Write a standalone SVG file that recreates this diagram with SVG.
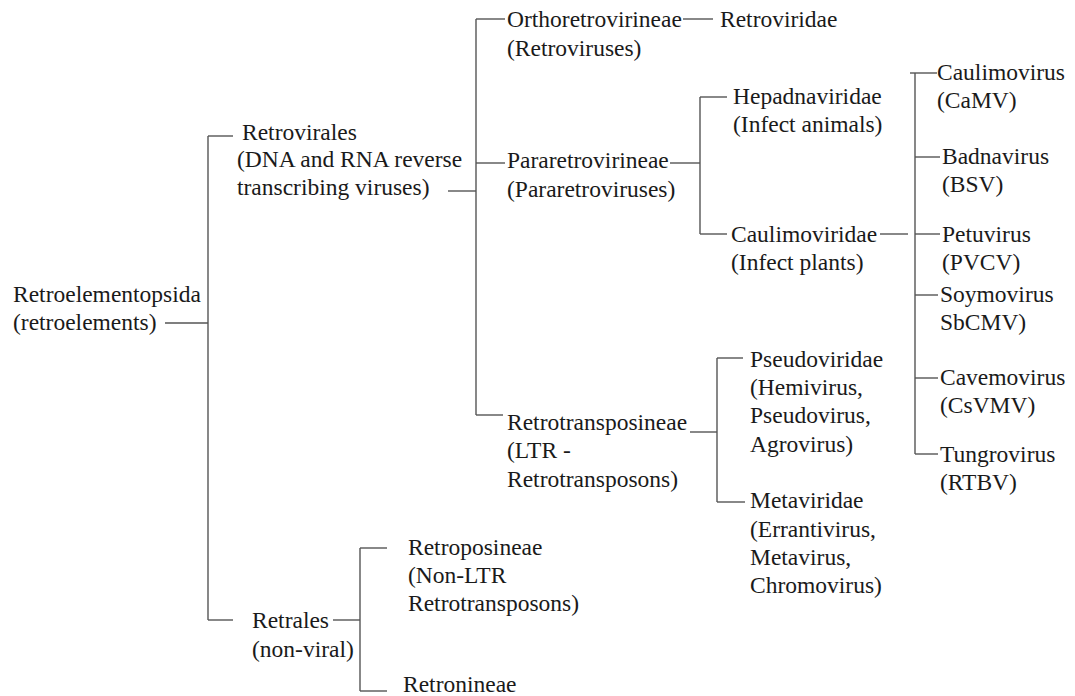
<svg xmlns="http://www.w3.org/2000/svg" width="1075" height="696" viewBox="0 0 1075 696">
<style>
text{font-family:"Liberation Serif","Times New Roman",serif;font-size:23.5px;fill:#1a1a1a}
.c line{stroke:#555;stroke-width:1.4;fill:none}
</style>
<rect width="1075" height="696" fill="#fff"/>
<g class="c" id="connectors">
<line x1="165" y1="323" x2="208" y2="323"/>
<line x1="208" y1="136" x2="208" y2="620"/>
<line x1="208" y1="136" x2="233" y2="136"/>
<line x1="208" y1="620" x2="233" y2="620"/>
<line x1="448" y1="191" x2="476" y2="191"/>
<line x1="476" y1="19" x2="476" y2="415"/>
<line x1="476" y1="19" x2="505" y2="19"/>
<line x1="476" y1="163" x2="505" y2="163"/>
<line x1="476" y1="415" x2="503" y2="415"/>
<line x1="683" y1="19" x2="713" y2="19"/>
<line x1="670" y1="163" x2="700" y2="163"/>
<line x1="700" y1="97" x2="700" y2="234"/>
<line x1="700" y1="97" x2="727" y2="97"/>
<line x1="700" y1="234" x2="727" y2="234"/>
<line x1="880" y1="234" x2="908" y2="234"/>
<line x1="915" y1="73" x2="915" y2="454"/>
<line x1="910" y1="73" x2="937" y2="73"/>
<line x1="915" y1="157" x2="940" y2="157"/>
<line x1="915" y1="234" x2="940" y2="234"/>
<line x1="915" y1="295" x2="938" y2="295"/>
<line x1="915" y1="378" x2="938" y2="378"/>
<line x1="915" y1="454" x2="938" y2="454"/>
<line x1="690" y1="432" x2="717" y2="432"/>
<line x1="717" y1="358" x2="717" y2="502"/>
<line x1="717" y1="358" x2="743" y2="358"/>
<line x1="717" y1="502" x2="745" y2="502"/>
<line x1="333" y1="620" x2="360" y2="620"/>
<line x1="360" y1="548" x2="360" y2="691"/>
<line x1="360" y1="548" x2="387" y2="548"/>
<line x1="360" y1="691" x2="387" y2="691"/>
</g>
<g id="retroelementopsida"><text x="13" y="302">Retroelementopsida</text><text x="13" y="330">(retroelements)</text></g>
<g id="retrovirales"><text x="242" y="140">Retrovirales</text><text x="237" y="167">(DNA and RNA reverse</text><text x="237" y="195">transcribing viruses)</text></g>
<g id="orthoretrovirineae"><text x="507" y="27">Orthoretrovirineae</text><text x="507" y="56">(Retroviruses)</text></g>
<g id="retroviridae"><text x="720" y="27">Retroviridae</text></g>
<g id="pararetrovirineae"><text x="507" y="168">Pararetrovirineae</text><text x="507" y="197">(Pararetroviruses)</text></g>
<g id="hepadnaviridae"><text x="733" y="104">Hepadnaviridae</text><text x="733" y="132">(Infect animals)</text></g>
<g id="caulimoviridae"><text x="731" y="242">Caulimoviridae</text><text x="731" y="270">(Infect plants)</text></g>
<g id="caulimovirus"><text x="937" y="80">Caulimovirus</text><text x="937" y="108">(CaMV)</text></g>
<g id="badnavirus"><text x="942" y="164">Badnavirus</text><text x="942" y="192">(BSV)</text></g>
<g id="petuvirus"><text x="942" y="242">Petuvirus</text><text x="942" y="270">(PVCV)</text></g>
<g id="soymovirus"><text x="940" y="302">Soymovirus</text><text x="940" y="330">SbCMV)</text></g>
<g id="cavemovirus"><text x="940" y="385">Cavemovirus</text><text x="940" y="413">(CsVMV)</text></g>
<g id="tungrovirus"><text x="940" y="462">Tungrovirus</text><text x="940" y="490">(RTBV)</text></g>
<g id="retrotransposineae"><text x="507" y="430">Retrotransposineae</text><text x="507" y="458">(LTR -</text><text x="507" y="487">Retrotransposons)</text></g>
<g id="pseudoviridae"><text x="750" y="367">Pseudoviridae</text><text x="750" y="395">(Hemivirus,</text><text x="750" y="423">Pseudovirus,</text><text x="750" y="452">Agrovirus)</text></g>
<g id="metaviridae"><text x="750" y="508">Metaviridae</text><text x="750" y="537">(Errantivirus,</text><text x="750" y="565">Metavirus,</text><text x="750" y="593">Chromovirus)</text></g>
<g id="retrales"><text x="252" y="628">Retrales</text><text x="252" y="657">(non-viral)</text></g>
<g id="retroposineae"><text x="408" y="555">Retroposineae</text><text x="408" y="583">(Non-LTR</text><text x="408" y="611">Retrotransposons)</text></g>
<g id="retronineae"><text x="403" y="692">Retronineae</text></g>
</svg>
